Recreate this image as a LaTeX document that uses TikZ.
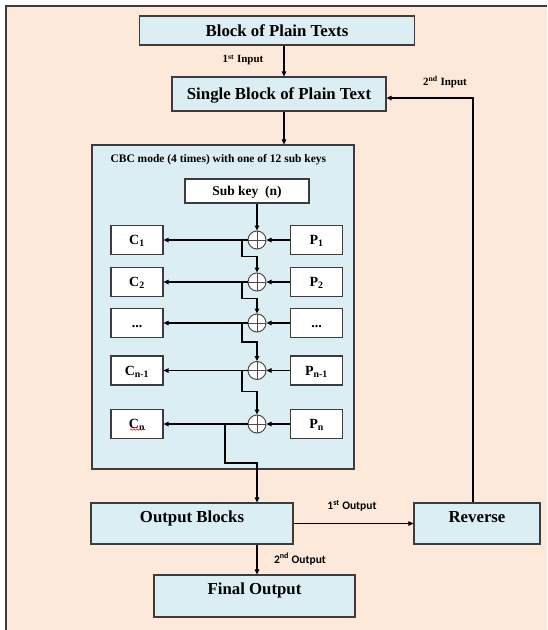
\documentclass[tikz,border=0pt]{standalone}
\usepackage{fontspec}
\setmainfont{Liberation Serif}
\newfontfamily\calfont{Carlito}
\usetikzlibrary{arrows.meta,calc,decorations.pathmorphing}
\definecolor{peach}{HTML}{FDE9D9}
\definecolor{paleblue}{HTML}{DAEEF3}
\definecolor{edgegray}{HTML}{3C3C3C}

\begin{document}
\begin{tikzpicture}
[x=1pt, y=-1pt, >={Triangle[length=5pt,width=4.5pt]},
 blk/.style={draw=edgegray, line width=1.2pt, fill=paleblue, inner sep=0pt, font=\fontsize{16.8}{18}\selectfont\bfseries, text height=11pt, text depth=0pt},
 lowblk/.style={blk, text height=19.5pt, text depth=21.5pt},
 inbox/.style={draw=edgegray, line width=1.2pt, fill=white, inner sep=0pt, minimum width=52pt, minimum height=29pt, font=\fontsize{14}{16}\selectfont\bfseries, text height=9.3pt, text depth=0pt},
 xor/.style={circle, draw=gray!60!black, line width=1pt, fill=white, minimum size=18pt, inner sep=0pt,
   path picture={\draw[gray!60!black, line width=1pt] (path picture bounding box.north) -- (path picture bounding box.south) (path picture bounding box.west) -- (path picture bounding box.east);}},
 lbl/.style={font=\fontsize{11}{12}\selectfont\bfseries},
 outlbl/.style={font=\calfont\fontsize{11.5}{13}\selectfont\bfseries},
 wire/.style={draw, line width=1.1pt}]
    \useasboundingbox (0,0) rectangle (547,630);
    \fill[peach] (6,6) rectangle (547,630);
    \draw[edgegray, line width=1.5pt] (6,630) -- (6,6) -- (547,6);
    % top blocks
    \node[blk, minimum width=275pt, minimum height=29pt] (blocks) at (277,30.5) {Block of Plain Texts};
    \node[blk, minimum width=214pt, minimum height=34pt] (single) at (279,94) {Single Block of Plain Text};
    % CBC part
    \node[draw=edgegray, line width=1.2pt, fill=paleblue, minimum width=262pt, minimum height=324pt, inner sep=0pt] (cbc) at (223,307) {};
    \node[lbl, font=\fontsize{11.5}{13}\selectfont\bfseries, anchor=west] (cbctitle) at (107,160) {CBC mode (4 times) with one of 12 sub keys};
    \node[inbox, minimum width=124pt, minimum height=24pt, font=\fontsize{13.5}{15}\selectfont\bfseries] (subkey) at (247,191) {Sub key \ (n)};
    \node[inbox] (c1) at (137,240) {C\textsubscript{1}};
    \node[inbox] (c2) at (137,282) {C\textsubscript{2}};
    \node[inbox] (c3) at (137,323) {...};
    \node[inbox] (c4) at (137,370.5) {C\textsubscript{n-1}};
    \node[inbox] (c5) at (137,424) {C\textsubscript{n}};
    \node[inbox] (p1) at (316.5,240) {P\textsubscript{1}};
    \node[inbox] (p2) at (316.5,282) {P\textsubscript{2}};
    \node[inbox] (p3) at (316.5,323) {...};
    \node[inbox] (p4) at (316.5,370.5) {P\textsubscript{n-1}};
    \node[inbox] (p5) at (316.5,424) {P\textsubscript{n}};
    \node[xor] (x1) at (257,240) {};
    \node[xor] (x2) at (257,282) {};
    \node[xor] (x3) at (257,323) {};
    \node[xor] (x4) at (257,370.5) {};
    \node[xor] (x5) at (257,424) {};
    \draw[red, line width=0.6pt, decorate, decoration={snake, amplitude=0.7pt, segment length=3pt}] (130,429.5) -- (145,429.5);
    % bottom blocks
    \node[lowblk, minimum width=202pt] (out) at (192,523.5) {Output Blocks};
    \node[lowblk, minimum width=126pt] (rev) at (477,523.5) {Reverse};
    \node[lowblk, minimum width=201pt, text depth=22.5pt] (final) at (254.5,596) {Final Output};
    % labels
    \node[lbl] (in1) at (243,60) {1\textsuperscript{st} Input};
    \node[lbl] (in2) at (445,82) {2\textsuperscript{nd} Input};
    \node[outlbl] (out1) at (352,506) {1\textsuperscript{st} Output};
    \node[outlbl] (out2) at (300,559) {2\textsuperscript{nd} Output};
    % connectors
    \draw[wire,->] ($(blocks.south)+(7,0)$) -- ($(single.north)+(5,0)$);
    \draw[wire,->] ($(single.south)+(5,0)$) -- ($(cbc.north)+(61,0)$);
    \draw[wire,->] (subkey.south -| x1) -- (x1);
    \foreach \i in {1,...,5}{
        \draw[wire,->] (x\i) -- (c\i);
        \draw[wire,->] (p\i) -- (x\i);
    }
    \foreach \i/\j in {1/2,2/3,3/4,4/5}{
        \draw[wire,->] ($(x\i)+(-15,0)$) |- ($(x\i)!0.4!(x\j)$) -- (x\j);
    }
    \coordinate (bend) at (257,463);
    \draw[wire,->] ($(x5)+(-32,0)$) |- (bend) -- (bend |- out.north);
    \draw[wire,->] (out) -- (rev);
    \draw[wire,->] (out.south -| bend) -- (final.north -| bend);
    \coordinate (turn) at (473,98);
    \draw[wire,->] (rev.north -| turn) -- (turn) -- (turn -| single.east);
\end{tikzpicture}
\end{document}
